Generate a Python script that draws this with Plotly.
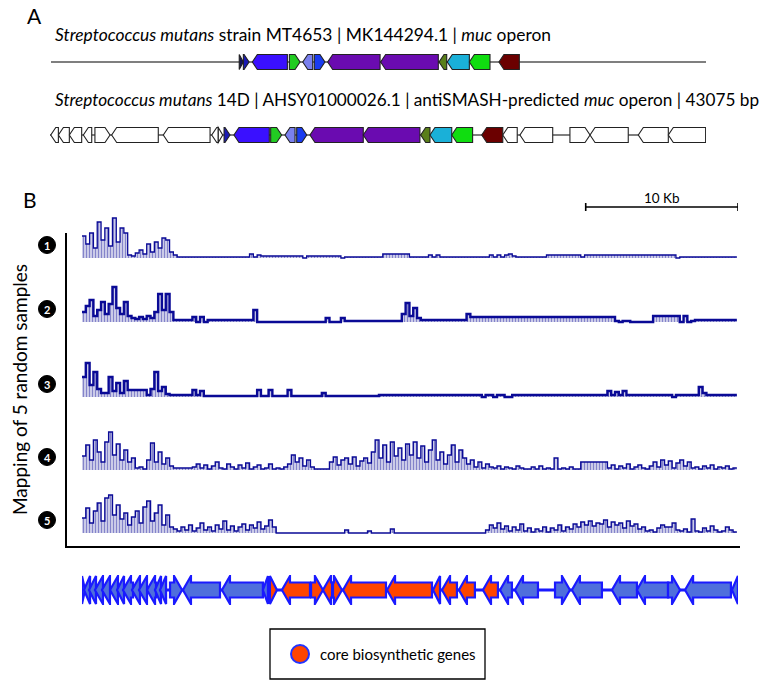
import numpy as np
import plotly.graph_objects as go

W, H = 760, 682
FONT = "Lato"

# ------------------------------------------------------------------ data
REGION_KB = 43.075      # 14D antiSMASH region length (kb)
MK_REGION_KB = 46.0     # MK144294.1 displayed length (kb)
BIN_KB = 0.25           # coverage bin width

# Panel A, track 1: S. mutans MT4653 muc operon
mk_start = [13.22, 13.51, 14.14, 16.74, 17.68, 18.49, 19.43, 23.15, 27.25, 27.83, 29.38, 31.46]
mk_end = [13.51, 13.91, 16.60, 17.49, 18.38, 19.24, 23.11, 27.20, 27.79, 29.38, 30.83, 32.89]
mk_strand = [1, 1, -1, 1, -1, 1, -1, -1, -1, -1, -1, -1]
mk_color = ["#14145a", "#1a1ab4", "#3a10ff", "#22cc22", "#7a80ee", "#1a3cf0",
            "#6a0bb0", "#6a0bb0", "#5a7f1a", "#1ab0d8", "#10dd10", "#6b0000"]

# Panel A, track 2: S. mutans 14D antiSMASH region
sd_start = [0.05, 0.55, 1.27, 2.19, 2.95, 4.05, 7.44, 10.62, 11.05, 11.43, 12.08, 14.49, 15.43,
            16.20, 17.07, 20.57, 24.34, 24.95, 26.38, 28.35, 29.73, 30.86, 34.14, 35.46, 38.63, 40.60]
sd_end = [0.55, 1.27, 2.08, 2.74, 3.94, 7.11, 10.51, 11.05, 11.34, 11.82, 14.40, 15.21, 16.09,
          16.86, 20.57, 24.29, 24.95, 26.38, 27.75, 29.73, 30.68, 33.01, 35.46, 37.97, 40.60, 43.05]
sd_strand = [-1, -1, -1, -1, 1, -1, -1, -1, 1, 1, -1, 1, -1,
             1, -1, -1, -1, -1, -1, -1, -1, -1, 1, -1, -1, -1]
sd_color = ["#ffffff"] * 9 + ["#1a1ab4", "#3a10ff", "#22cc22", "#7a80ee", "#1a3cf0",
                              "#6a0bb0", "#6a0bb0", "#5a7f1a", "#1ab0d8", "#10dd10", "#6b0000"] + ["#ffffff"] * 6

# Panel B: gene map under the coverage tracks
bm_start = [0.00, 0.13, 0.46, 0.85, 1.31, 1.84, 2.30, 2.69, 3.28, 3.74, 4.27, 4.79, 5.12, 5.78,
            6.63, 9.19, 11.88, 12.34, 13.13, 15.04, 15.82, 16.48, 17.14, 20.03, 23.05, 23.64,
            24.75, 26.33, 27.45, 28.43, 31.06, 32.17, 34.80, 36.44, 38.48, 39.60, 42.68]
bm_end = [0.20, 0.53, 0.92, 1.38, 1.84, 2.36, 2.76, 3.35, 3.81, 4.27, 4.86, 5.19, 5.52, 6.57,
          9.06, 11.88, 12.21, 12.80, 14.97, 15.82, 16.42, 17.07, 19.96, 22.98, 23.51, 24.62,
          25.80, 27.31, 28.23, 29.94, 32.04, 34.14, 36.44, 38.48, 39.27, 42.61, 43.07]
bm_strand = [1, -1, -1, -1, -1, -1, -1, -1, -1, -1, -1, -1, -1, 1,
             -1, -1, -1, 1, -1, 1, -1, 1, -1, -1, -1, -1,
             -1, -1, -1, -1, 1, -1, -1, -1, 1, -1, -1]
bm_core = [0] * 17 + [1] * 11 + [0] * 9

# Panel B: read coverage of 5 random samples (bins of 0.25 kb)
cov1 = [22, 14, 25, 10, 36, 18, 30, 12, 40, 16,
        30, 25, 3, 2, 5, 8, 4, 14, 6, 16,
        10, 20, 18, 6, 3, 1, 1, 1, 1, 1,
        1, 1, 1, 1, 1, 1, 1, 1, 1, 1,
        1, 1, 1, 1, 4, 1, 3, 2, 2, 2,
        2, 2, 2, 2, 2, 2, 2, 2, 0, 2,
        2, 2, 2, 2, 2, 2, 2, 2, 0, 1,
        1, 1, 1, 1, 1, 1, 1, 1, 1, 4,
        4, 4, 4, 4, 4, 4, 1, 1, 1, 1,
        1, 3, 1, 3, 1, 1, 1, 1, 1, 1,
        1, 1, 1, 1, 1, 1, 1, 3, 1, 3,
        1, 3, 4, 2, 1, 1, 1, 1, 1, 1,
        1, 1, 3, 3, 3, 3, 3, 3, 3, 3,
        3, 1, 3, 3, 3, 3, 3, 3, 3, 3,
        3, 3, 3, 3, 3, 3, 3, 3, 3, 3,
        3, 3, 3, 3, 3, 3, 0, 1, 1, 1,
        1, 1, 1, 1, 1, 1, 1, 1, 1, 1,
        1, 1]
cov2 = [10, 16, 22, 6, 12, 20, 8, 18, 35, 14,
        8, 20, 6, 4, 3, 5, 3, 6, 4, 10,
        28, 12, 28, 10, 2, 2, 2, 2, 2, 5,
        0, 5, 0, 2, 2, 2, 2, 2, 2, 2,
        2, 2, 2, 2, 2, 12, 0, 0, 0, 0,
        0, 0, 0, 0, 0, 0, 0, 0, 0, 0,
        0, 0, 0, 0, 4, 0, 0, 0, 4, 1,
        1, 1, 1, 1, 1, 1, 1, 1, 1, 1,
        1, 1, 1, 1, 8, 19, 6, 14, 4, 2,
        2, 2, 2, 2, 2, 2, 2, 2, 2, 2,
        2, 8, 5, 5, 5, 5, 5, 5, 5, 5,
        5, 5, 5, 5, 5, 5, 5, 5, 5, 5,
        5, 5, 5, 5, 5, 5, 5, 5, 5, 5,
        5, 5, 5, 5, 5, 5, 5, 5, 5, 5,
        1, 0, 1, 1, 0, 0, 0, 0, 0, 0,
        6, 6, 6, 6, 6, 6, 6, 0, 6, 0,
        1, 2, 2, 2, 2, 2, 2, 2, 2, 2,
        2, 2]
cov3 = [20, 34, 12, 25, 8, 4, 4, 20, 6, 14,
        4, 16, 7, 7, 7, 7, 7, 2, 8, 25,
        6, 10, 3, 2, 2, 2, 2, 2, 2, 7,
        2, 6, 1, 1, 1, 1, 1, 1, 1, 1,
        1, 1, 1, 1, 1, 1, 7, 1, 1, 7,
        1, 1, 1, 1, 7, 1, 1, 1, 1, 1,
        1, 1, 1, 4, 1, 1, 1, 1, 1, 1,
        1, 1, 1, 1, 1, 1, 1, 1, 2, 2,
        2, 2, 2, 2, 2, 2, 2, 2, 2, 2,
        2, 2, 2, 2, 2, 2, 2, 2, 2, 2,
        2, 2, 2, 2, 2, 0, 2, 2, 0, 2,
        2, 0, 0, 2, 2, 2, 2, 2, 2, 2,
        2, 2, 2, 2, 2, 2, 2, 2, 2, 2,
        2, 2, 2, 2, 2, 2, 2, 2, 6, 2,
        5, 2, 6, 2, 2, 2, 2, 2, 2, 2,
        2, 2, 2, 2, 2, 0, 2, 2, 2, 2,
        2, 2, 10, 4, 2, 2, 2, 2, 2, 2,
        2, 2]
cov4 = [14, 25, 10, 30, 18, 8, 28, 38, 15, 26,
        10, 20, 8, 12, 2, 3, 1, 10, 27, 8,
        18, 6, 12, 4, 2, 2, 2, 2, 2, 3,
        6, 2, 5, 1, 4, 8, 2, 1, 6, 3,
        1, 5, 2, 7, 1, 3, 5, 1, 2, 6,
        1, 2, 1, 3, 6, 15, 8, 12, 4, 10,
        3, 1, 1, 1, 1, 8, 13, 5, 10, 12,
        6, 13, 4, 9, 12, 7, 18, 30, 12, 25,
        8, 28, 14, 22, 10, 26, 15, 28, 12, 24,
        8, 20, 30, 10, 18, 6, 15, 25, 8, 20,
        12, 6, 10, 3, 8, 2, 6, 3, 2, 4,
        1, 3, 2, 1, 4, 2, 1, 1, 3, 1,
        4, 1, 2, 1, 12, 1, 2, 1, 3, 1,
        1, 8, 8, 8, 8, 8, 8, 8, 2, 5,
        1, 4, 2, 6, 1, 3, 5, 2, 1, 4,
        8, 3, 10, 5, 9, 2, 7, 10, 4, 8,
        2, 3, 1, 4, 2, 5, 1, 3, 2, 4,
        1, 2]
cov5 = [15, 25, 10, 22, 30, 12, 35, 38, 18, 28,
        14, 20, 8, 16, 22, 10, 26, 32, 12, 20,
        28, 8, 18, 6, 4, 2, 6, 3, 8, 2,
        5, 10, 3, 6, 2, 8, 4, 12, 3, 7,
        2, 6, 9, 3, 8, 5, 11, 4, 7, 13,
        6, 0, 0, 0, 0, 0, 0, 0, 0, 0,
        0, 0, 0, 0, 0, 0, 0, 0, 0, 3,
        0, 0, 0, 0, 0, 2, 0, 0, 0, 0,
        0, 4, 0, 0, 0, 0, 0, 0, 0, 0,
        0, 0, 0, 0, 0, 0, 0, 0, 0, 0,
        0, 0, 0, 0, 0, 0, 3, 8, 5, 10,
        4, 7, 2, 6, 3, 9, 2, 5, 1, 4,
        2, 6, 1, 5, 3, 8, 2, 6, 4, 9,
        6, 11, 8, 12, 7, 10, 9, 13, 6, 11,
        8, 10, 5, 12, 7, 9, 4, 6, 2, 3,
        1, 5, 8, 6, 6, 10, 3, 2, 4, 1,
        14, 2, 1, 5, 2, 7, 3, 1, 2, 6,
        3, 1]
coverages = [cov1, cov2, cov3, cov4, cov5]
sample_labels = ["1", "2", "3", "4", "5"]

# ------------------------------------------------------------------ layout helpers
def py(y):
    return 1 - y / H

def px(x):
    return x / W

COV_COLOR = "#0a0a96"
fig = go.Figure()
shapes, annotations = [], []
layout_axes = {}

def add_axes(idx, x0, x1, xrange, ydom, yrange):
    xa = "xaxis" if idx == 1 else f"xaxis{idx}"
    ya = "yaxis" if idx == 1 else f"yaxis{idx}"
    layout_axes[xa] = dict(domain=[px(x0), px(x1)], range=xrange, visible=False,
                           anchor="y" if idx == 1 else f"y{idx}", fixedrange=True)
    layout_axes[ya] = dict(domain=ydom, range=yrange, visible=False,
                           anchor="x" if idx == 1 else f"x{idx}", fixedrange=True)
    return ("x" if idx == 1 else f"x{idx}"), ("y" if idx == 1 else f"y{idx}")

def pentagon(s, e, strand, head, h):
    hd = min(head, e - s)
    if strand > 0:
        pts = [(s, -h), (e - hd, -h), (e, 0), (e - hd, h), (s, h)]
    else:
        pts = [(e, -h), (s + hd, -h), (s, 0), (s + hd, h), (e, h)]
    return "M " + " L ".join(f"{a:.4f},{b:.4f}" for a, b in pts) + " Z"

def arrow(s, e, strand, head, b, t):
    hd = min(head, e - s)
    if strand > 0:
        pts = [(s, -b), (e - hd, -b), (e - hd, -t), (e, 0), (e - hd, t), (e - hd, b), (s, b)]
    else:
        pts = [(e, -b), (s + hd, -b), (s + hd, -t), (s, 0), (s + hd, t), (s + hd, b), (e, b)]
    return "M " + " L ".join(f"{a:.4f},{c:.4f}" for a, c in pts) + " Z"

# ------------------------------------------------------------------ panel A track 1
xr, yr = add_axes(1, 51, 706, [0, MK_REGION_KB], [py(72), py(52)], [-1, 1])
fig.add_trace(go.Scatter(x=[0, MK_REGION_KB], y=[0, 0], mode="lines", xaxis=xr, yaxis=yr,
                         line=dict(color="#555555", width=1.3), hoverinfo="skip"))
head1 = 5 * MK_REGION_KB / 655
for s, e, st, c in zip(mk_start, mk_end, mk_strand, mk_color):
    shapes.append(dict(type="path", path=pentagon(s, e, st, head1, 0.75), xref=xr, yref=yr,
                       fillcolor=c, line=dict(color="#222222", width=1.1)))

# ------------------------------------------------------------------ panel A track 2
xr, yr = add_axes(2, 50, 706, [0, REGION_KB], [py(145), py(125)], [-1, 1])
fig.add_trace(go.Scatter(x=[0, REGION_KB], y=[0, 0], mode="lines", xaxis=xr, yaxis=yr,
                         line=dict(color="#555555", width=1.3), hoverinfo="skip"))
head2 = 5 * REGION_KB / 656
for s, e, st, c in zip(sd_start, sd_end, sd_strand, sd_color):
    shapes.append(dict(type="path", path=pentagon(s, e, st, head2, 0.75), xref=xr, yref=yr,
                       fillcolor=c, line=dict(color="#222222", width=1.1)))

# ------------------------------------------------------------------ panel B coverage
baselines = [258, 322, 397, 470, 533]
widths = [1.3, 2.4, 2.4, 1.4, 1.4]
for i, (cov, base, lw) in enumerate(zip(coverages, baselines, widths)):
    xr, yr = add_axes(3 + i, 82, 738, [0, REGION_KB], [py(base + 4), py(base - 56)], [-4, 56])
    xs = list(np.arange(len(cov)) * BIN_KB) + [len(cov) * BIN_KB]
    ys = list(cov) + [cov[-1]]
    fig.add_trace(go.Scatter(x=xs, y=ys, mode="lines", line_shape="hv", xaxis=xr, yaxis=yr,
                             fill="tozeroy", fillcolor="rgba(0,0,0,0)",
                             fillpattern=dict(shape="|", fgcolor=COV_COLOR, bgcolor="rgba(255,255,255,0)",
                                              size=3, solidity=0.62),
                             line=dict(color=COV_COLOR, width=lw), hoverinfo="skip"))
    # sample badge
    cy = base - 13
    shapes.append(dict(type="circle", xref="paper", yref="paper",
                       x0=px(47 - 8.5), x1=px(47 + 8.5), y0=py(cy + 8.5), y1=py(cy - 8.5),
                       fillcolor="black", line=dict(color="black", width=1)))
    annotations.append(dict(text=f"<b>{sample_labels[i]}</b>", x=px(47), y=py(cy), xref="paper",
                            yref="paper", showarrow=False, font=dict(family=FONT, size=11, color="white"),
                            xanchor="center", yanchor="middle"))

# scale bar (10 kb) on the coverage scale
shapes.append(dict(type="line", xref="x3", yref="paper", x0=REGION_KB - 10, x1=REGION_KB,
                   y0=py(207), y1=py(207), line=dict(color="black", width=1.6)))
for xv in (REGION_KB - 10, REGION_KB):
    shapes.append(dict(type="line", xref="x3", yref="paper", x0=xv, x1=xv,
                       y0=py(203), y1=py(211), line=dict(color="black", width=1.6)))
annotations.append(dict(text="10 Kb", xref="x3", yref="paper", x=REGION_KB - 5, y=py(198),
                        showarrow=False, font=dict(family=FONT, size=13.5, color="black"),
                        xanchor="center", yanchor="middle"))

# axis frame of panel B
shapes.append(dict(type="line", xref="paper", yref="paper", x0=px(66), x1=px(66),
                   y0=py(233), y1=py(547), line=dict(color="black", width=2)))
shapes.append(dict(type="line", xref="paper", yref="paper", x0=px(65), x1=px(740),
                   y0=py(547), y1=py(547), line=dict(color="black", width=2)))

# ------------------------------------------------------------------ panel B gene map
xr, yr = add_axes(8, 82, 738, [0, REGION_KB], [py(605), py(575)], [-1, 1])
fig.add_trace(go.Scatter(x=[0, REGION_KB], y=[0, 0], mode="lines", xaxis=xr, yaxis=yr,
                         line=dict(color="#1a1aff", width=3), hoverinfo="skip"))
head3 = 8 * REGION_KB / 656
for s, e, st, core in zip(bm_start, bm_end, bm_strand, bm_core):
    shapes.append(dict(type="path", path=arrow(s, e, st, head3, 0.5, 0.93), xref=xr, yref=yr,
                       fillcolor="#ff4500" if core else "#4f6fdc",
                       line=dict(color="#1a1aff", width=2.2)))

# legend box
shapes.append(dict(type="rect", xref="paper", yref="paper", x0=px(270), x1=px(485),
                   y0=py(679), y1=py(629), line=dict(color="black", width=1.3), fillcolor="white"))
shapes.append(dict(type="circle", xref="paper", yref="paper", x0=px(300 - 9), x1=px(300 + 9),
                   y0=py(654 + 9), y1=py(654 - 9), fillcolor="#ff4500",
                   line=dict(color="#2233ff", width=2)))
annotations.append(dict(text="core biosynthetic genes", xref="paper", yref="paper", x=px(318),
                        y=py(654), showarrow=False, xanchor="left", yanchor="middle",
                        font=dict(family=FONT, size=15, color="black")))

# ------------------------------------------------------------------ text
def txt(t, x, y, size, anchor="left", angle=0):
    annotations.append(dict(text=t, xref="paper", yref="paper", x=px(x), y=py(y), showarrow=False,
                            xanchor=anchor, yanchor="middle", textangle=angle,
                            font=dict(family=FONT, size=size, color="black")))

txt("A", 25, 16, 21)
txt("B", 21, 200, 21)
txt("<i>Streptococcus mutans</i> strain MT4653 | MK144294.1 | <i>muc</i> operon", 53, 35, 17.4)
txt("<i>Streptococcus mutans</i> 14D | AHSY01000026.1 | antiSMASH-predicted <i>muc</i> operon | 43075 bp",
    53, 100, 17.2)
txt("Mapping of 5 random samples", 19, 390, 19, anchor="center", angle=-90)

fig.update_layout(width=W, height=H, margin=dict(l=0, r=0, t=0, b=0),
                  paper_bgcolor="white", plot_bgcolor="white", showlegend=False,
                  shapes=shapes, annotations=annotations, **layout_axes)
fig.write_html("out.html", config={"displayModeBar": False},
               post_script="document.body.style.margin='0';")
